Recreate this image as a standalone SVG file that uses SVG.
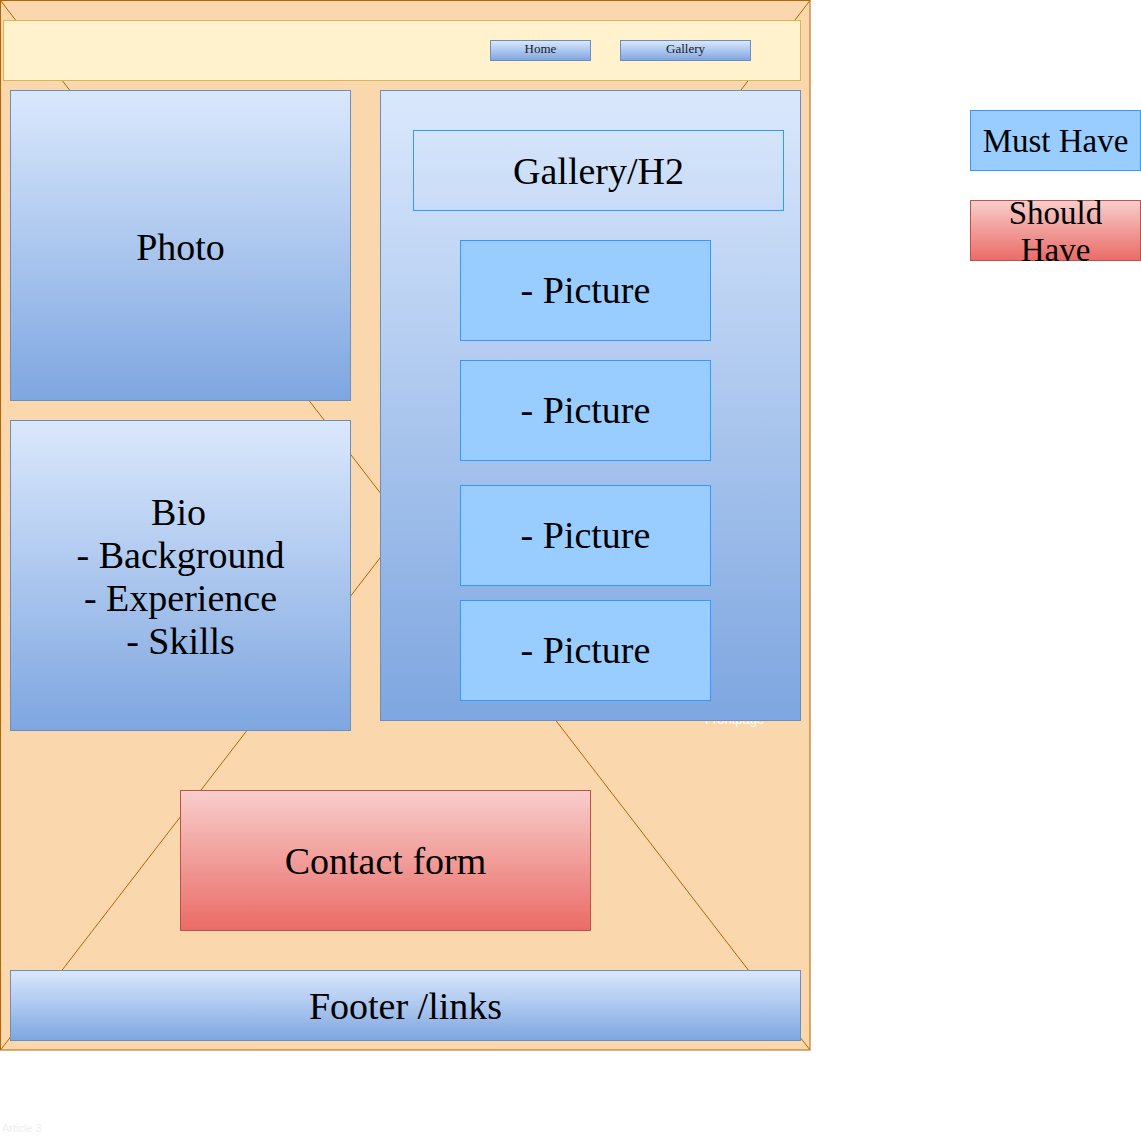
<svg xmlns="http://www.w3.org/2000/svg" width="1141" height="1141" viewBox="0 0 1141 1141">
  <defs>
    <linearGradient id="blueGrad" x1="0" y1="0" x2="0" y2="1">
      <stop offset="0" stop-color="#dae8fc"/>
      <stop offset="1" stop-color="#7ea6e0"/>
    </linearGradient>
    <linearGradient id="redGrad" x1="0" y1="0" x2="0" y2="1">
      <stop offset="0" stop-color="#f8cecc"/>
      <stop offset="1" stop-color="#ea6b66"/>
    </linearGradient>
    <style>
      .blue { fill: url(#blueGrad); stroke: #6c8ebf; stroke-width: 1; }
      .red { fill: url(#redGrad); stroke: #b85450; stroke-width: 1; }
      .pic { fill: #99ccff; stroke: #3399ff; stroke-width: 1; }
      .label { font-family: "Liberation Serif", "Times New Roman", serif; font-size: 38px; fill: #000000; text-anchor: middle; }
      .legend { font-family: "Liberation Serif", "Times New Roman", serif; font-size: 33px; fill: #000000; text-anchor: middle; }
      .small { font-family: "Liberation Serif", "Times New Roman", serif; font-size: 13px; fill: #1a1a1a; text-anchor: middle; }
      .faint { font-family: "Liberation Sans", Arial, sans-serif; font-size: 11px; }
    </style>
  </defs>

  <!-- page frame with crossed placeholder lines -->
  <g id="page">
    <rect x="0.5" y="0.5" width="809.5" height="1049.5" fill="#fad7ac" stroke="#b46504"/>
    <line x1="0.5" y1="0.5" x2="810" y2="1050" stroke="#b46504"/>
    <line x1="810" y1="0.5" x2="0.5" y2="1050" stroke="#b46504"/>
  </g>

  <text class="faint" x="705" y="724" fill="#ffffff" style="font-size:13px">Frontpage</text>

  <!-- header bar with navigation buttons -->
  <g id="header">
    <rect x="3.5" y="20.5" width="797" height="60" fill="#fff2cc" stroke="#d6b656"/>
  </g>
  <g id="nav-home">
    <rect x="490.5" y="40.5" width="100" height="20" class="blue"/>
    <text class="small" x="540.5" y="53">Home</text>
  </g>
  <g id="nav-gallery">
    <rect x="620.5" y="40.5" width="130" height="20" class="blue"/>
    <text class="small" x="685.5" y="53">Gallery</text>
  </g>

  <!-- left column -->
  <g id="photo">
    <rect x="10.5" y="90.5" width="340" height="310" class="blue"/>
    <text class="label" x="180.5" y="260">Photo</text>
  </g>
  <g id="bio">
    <rect x="10.5" y="420.5" width="340" height="310" class="blue"/>
    <text class="label" x="178.5" y="525">Bio</text>
    <text class="label" x="180.5" y="568">- Background</text>
    <text class="label" x="180.5" y="611">- Experience</text>
    <text class="label" x="180.5" y="654">- Skills</text>
  </g>

  <!-- gallery column -->
  <g id="gallery">
    <rect x="380.5" y="90.5" width="420" height="630" class="blue"/>
  </g>
  <g id="gallery-title">
    <rect x="413.5" y="130.5" width="370" height="80" fill="none" stroke="#3399ff"/>
    <text class="label" x="598.5" y="184">Gallery/H2</text>
  </g>
  <g id="picture-1">
    <rect x="460.5" y="240.5" width="250" height="100" class="pic"/>
    <text class="label" x="585.5" y="303">- Picture</text>
  </g>
  <g id="picture-2">
    <rect x="460.5" y="360.5" width="250" height="100" class="pic"/>
    <text class="label" x="585.5" y="423">- Picture</text>
  </g>
  <g id="picture-3">
    <rect x="460.5" y="485.5" width="250" height="100" class="pic"/>
    <text class="label" x="585.5" y="548">- Picture</text>
  </g>
  <g id="picture-4">
    <rect x="460.5" y="600.5" width="250" height="100" class="pic"/>
    <text class="label" x="585.5" y="663">- Picture</text>
  </g>

  <!-- contact form and footer -->
  <g id="contact">
    <rect x="180.5" y="790.5" width="410" height="140" class="red"/>
    <text class="label" x="385.5" y="874">Contact form</text>
  </g>
  <g id="footer">
    <rect x="10.5" y="970.5" width="790" height="70" class="blue"/>
    <text class="label" x="405.5" y="1019">Footer /links</text>
  </g>

  <!-- legend -->
  <g id="legend-must">
    <rect x="970.5" y="110.5" width="170" height="60" class="pic"/>
    <text class="legend" x="1055.5" y="152">Must Have</text>
  </g>
  <g id="legend-should">
    <rect x="970.5" y="200.5" width="170" height="60" class="red"/>
    <text class="legend" x="1055.5" y="224">Should</text>
    <text class="legend" x="1055.5" y="261">Have</text>
  </g>

  <text class="faint" x="2" y="1132" fill="#eeeeee">Article 3</text>

  <g id="connectors"/>
</svg>
